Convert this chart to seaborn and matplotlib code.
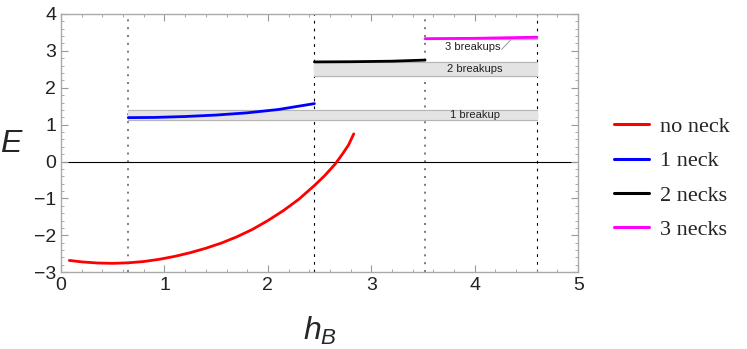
import numpy as np
import pandas as pd
import seaborn as sns
import matplotlib.pyplot as plt
from matplotlib.ticker import MultipleLocator

# curve values
no_neck_x = [0.08, 0.2, 0.35, 0.5, 0.65, 0.8, 0.95, 1.1, 1.25, 1.4, 1.55, 1.7, 1.85,
             2.0, 2.15, 2.3, 2.45, 2.55, 2.65, 2.72, 2.78, 2.83]
no_neck_y = [-2.68, -2.72, -2.75, -2.76, -2.745, -2.71, -2.65, -2.57, -2.47, -2.35, -2.21,
             -2.04, -1.84, -1.60, -1.33, -1.02, -0.65, -0.38, -0.07, 0.20, 0.45, 0.75]
neck1_x = [0.65, 0.9, 1.2, 1.5, 1.8, 2.1, 2.45]
neck1_y = [1.19, 1.195, 1.22, 1.26, 1.32, 1.41, 1.57]
neck2_x = [2.45, 2.8, 3.2, 3.52]
neck2_y = [2.70, 2.705, 2.72, 2.75]
neck3_x = [3.52, 4.0, 4.6]
neck3_y = [3.33, 3.34, 3.37]

series = ['no neck', '1 neck', '2 necks', '3 necks']
colors = ['#ff0000', '#0000ff', '#000000', '#ff00ff']

# breakup bands: (label, x start, x end, y low, y high)
bands = [('1 breakup', 0.65, 4.6, 1.12, 1.40),
         ('2 breakups', 2.45, 4.6, 2.32, 2.70),
         ('3 breakups', 3.52, 4.6, 3.33, 3.36)]
gray_lines = [0.65, 3.52]
black_lines = [2.45, 4.6]

df = pd.concat([
    pd.DataFrame({'h': no_neck_x, 'E': no_neck_y, 'kind': series[0]}),
    pd.DataFrame({'h': neck1_x, 'E': neck1_y, 'kind': series[1]}),
    pd.DataFrame({'h': neck2_x, 'E': neck2_y, 'kind': series[2]}),
    pd.DataFrame({'h': neck3_x, 'E': neck3_y, 'kind': series[3]}),
])

sns.set_style("ticks")
plt.rcParams['font.family'] = ['Liberation Sans', 'DejaVu Sans']
plt.rcParams['mathtext.fontset'] = 'custom'
plt.rcParams['mathtext.it'] = 'Liberation Sans:italic'
plt.rcParams['mathtext.rm'] = 'Liberation Sans'

fig = plt.figure(figsize=(7.47, 3.49), dpi=100)
ax = fig.add_axes([0.0817, 0.22, 0.6923, 0.74])

# gray bands
for lab, x0, x1, y0, y1 in bands:
    ax.fill_between([x0, x1], y0, y1, color='#e3e3e3', zorder=1)
    ax.plot([x0, x1], [y0, y0], color='#b5b5b5', lw=0.8, zorder=1)
    ax.plot([x0, x1], [y1, y1], color='#b5b5b5', lw=0.8, zorder=1)

ax.text(4.0, 1.25, '1 breakup', fontsize=8, ha='center', va='center', color='#222222')
ax.text(4.0, 2.50, '2 breakups', fontsize=8, ha='center', va='center', color='#222222')
ax.text(3.98, 3.10, '3 breakups', fontsize=8, ha='center', va='center', color='#222222')
ax.plot([4.26, 4.35], [3.04, 3.30], color='#999999', lw=0.7)

for xv in gray_lines:
    ax.axvline(xv, color='#666666', lw=1.2, ls=(0, (1.2, 3.5)), zorder=0)
for xv in black_lines:
    ax.axvline(xv, color='#000000', lw=0.8, ls=(0, (2.5, 4.5)), zorder=0)
ax.axhline(0, color='black', lw=0.8, zorder=0)

sns.lineplot(data=df, x='h', y='E', hue='kind', hue_order=series, palette=colors,
             sort=False, estimator=None, lw=2.0, ax=ax, zorder=3)

ax.set_xlim(0, 5)
ax.set_ylim(-3, 4)
ax.xaxis.set_major_locator(MultipleLocator(1))
ax.xaxis.set_minor_locator(MultipleLocator(0.2))
ax.yaxis.set_major_locator(MultipleLocator(1))
ax.yaxis.set_minor_locator(MultipleLocator(0.2))
ax.tick_params(which='both', direction='in', top=True, right=True, color='#999999',
               labelsize=14, labelcolor='#222222')
ax.tick_params(which='major', length=5, width=0.8)
ax.tick_params(which='minor', length=2.5, width=0.6)
for s in ax.spines.values():
    s.set_color('#aaaaaa')
    s.set_linewidth(1.0)
ax.set_xlabel('')
ax.set_ylabel('')
ax.set_yticks(range(-3, 5))
ax.set_yticklabels(['\u22123', '\u22122', '\u22121', '0', '1', '2', '3', '4'])

fig.text(12 / 747, 1 - 144 / 349, '$E$', fontsize=23, ha='center', va='center')
fig.text(320 / 747, 1 - 331 / 349, '$h_B$', fontsize=23, ha='center', va='center')

sns.move_legend(ax, 'upper left', bbox_to_anchor=(1.03, 0.68), frameon=False, title=None,
                prop={'family': 'Liberation Serif', 'size': 16}, handlelength=1.6,
                handletextpad=0.5, labelspacing=0.62)
for line in ax.get_legend().get_lines():
    line.set_linewidth(2.2)

fig.savefig('out.png', dpi=100)
